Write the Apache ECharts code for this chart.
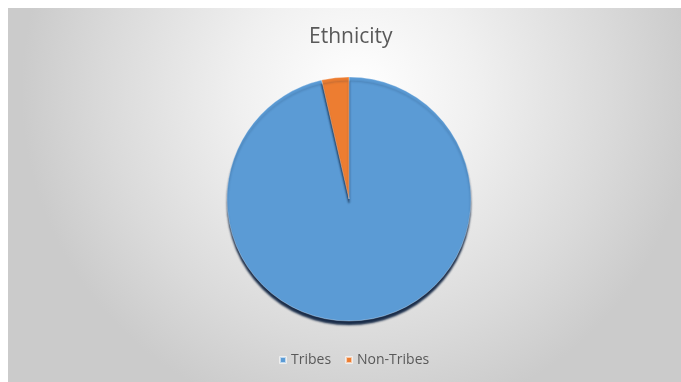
<!DOCTYPE html>
<html>
<head>
<meta charset="utf-8">
<script src="https://cdn.jsdelivr.net/npm/echarts@6/dist/echarts.min.js"></script>
<style>
html, body { margin: 0; padding: 0; background: #fff; }
#main { width: 681px; height: 382px; }
</style>
</head>
<body>
<div id="main"></div>
<script>
var categories = ['Tribes', 'Non-Tribes'];
var values = [96.4, 3.6];
var colors = ['#5B9BD5', '#ED7D31'];

var myChart = echarts.init(document.getElementById('main'));
var option = {
	backgroundColor: '#ffffff',
	color: colors,
	graphic: [{
		type: 'rect',
		left: 8,
		top: 8,
		z: -10,
		shape: { width: 673, height: 374 },
		style: {
			fill: {
				type: 'radial', x: 0.52, y: 0.22, r: 0.9,
				colorStops: [
					{ offset: 0, color: '#ffffff' },
					{ offset: 0.35, color: '#f0f0f0' },
					{ offset: 0.75, color: '#dadada' },
					{ offset: 1, color: '#cbcbcb' }
				]
			}
		}
	}],
	title: {
		text: 'Ethnicity',
		left: 304,
		top: 22,
		textStyle: {
			fontFamily: 'Open Sans',
			fontWeight: 'normal',
			fontSize: 21,
			color: '#595959'
		}
	},
	legend: {
		bottom: 10,
		left: 274,
		icon: 'rect',
		itemWidth: 6,
		itemHeight: 6,
		itemGap: 14,
		data: categories,
		textStyle: { fontFamily: 'Open Sans', fontSize: 14, color: '#595959' }
	},
	series: [{
		name: 'Ethnicity',
		type: 'pie',
		center: [349, 199],
		radius: 122,
		startAngle: 90,
		clockwise: true,
		label: { show: false },
		labelLine: { show: false },
		itemStyle: {
			borderWidth: 0.5,
			borderColor: 'rgba(255,255,255,0.6)',
			shadowColor: 'rgba(15,35,65,0.95)',
			shadowBlur: 2,
			shadowOffsetY: 4
		},
		emphasis: { disabled: true },
		data: categories.map(function(c, i) {
			return { name: c, value: values[i] };
		})
	}]
};
// 使用刚指定的配置项和数据显示图表。
myChart.setOption(option);
</script>
</body>
</html>
